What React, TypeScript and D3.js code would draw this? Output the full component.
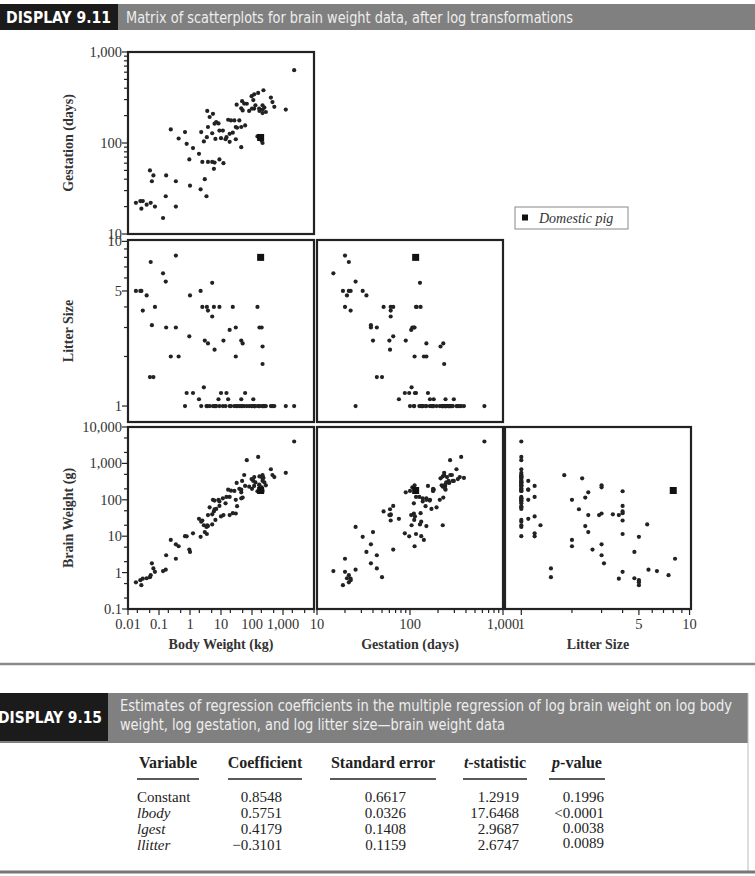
import React from "react";
import * as d3 from "d3";

// ---------- data (one entry per species) ----------
const bodyKg = [
  0.018, 0.025, 0.027, 0.03, 0.04, 0.051, 0.054, 0.059, 0.066, 0.074,
  0.135, 0.165, 0.17, 0.24, 0.35, 0.35, 0.43, 0.69, 0.78, 1.0,
  0.95, 1.25, 1.95, 2.2, 2.3, 2.5, 2.8, 3.0, 3.4, 3.6,
  3.5, 3.8, 3.8, 5.2, 5.2, 5.9, 6.2, 8.9, 12, 19,
  24, 30, 30, 45, 50, 150, 174, 205, 219, 219,
  8.3, 10, 15, 17, 45, 60, 110,
  4.3, 5.5, 7.0, 8.9, 11.5, 14, 19, 27, 32, 39, 48, 56, 68, 81, 97, 118, 158, 170, 219, 251, 407, 457, 525, 1230, 2290,
  6.2, 6.6, 21, 33, 45, 100, 117, 129, 234, 280, 219, 174,
];
const gestDays = [
  22, 23, 19, 23, 21, 50, 22, 38, 44, 20,
  15, 26, 44, 141, 20, 38, 112, 132, 98, 34,
  66, 88, 76, 31, 132, 62, 104, 40, 26, 225,
  116, 62, 150, 128, 62, 52, 61, 66, 60, 103,
  130, 110, 150, 90, 228, 118, 112, 106, 213, 233,
  164, 113, 116, 180, 241, 156, 296,
  193, 209, 170, 137, 137, 110, 126, 177, 264, 177, 288, 271, 270, 225, 327, 343, 355, 239, 260, 245, 316, 282, 250, 233, 631,
  163, 111, 177, 147, 150, 239, 239, 260, 380, 219, 100, 225,
];
const litterSize = [
  5.0, 5.0, 5.0, 3.8, 4.7, 1.5, 7.5, 3.1, 1.5, 4.0,
  6.4, 5.7, 3.0, 2.0, 8.2, 3.0, 2.0, 1.0, 1.2, 4.7,
  2.65, 1.2, 1.1, 5.0, 1.0, 4.0, 1.3, 2.5, 1.0, 1.0,
  4.0, 3.8, 2.4, 5.6, 3.5, 4.0, 2.2, 4.0, 2.5, 2.9,
  4.0, 3.0, 2.0, 2.5, 2.4, 4.0, 3.0, 3.0, 2.3, 1.8,
  1.1, 1.2, 1.2, 1.1, 1.1, 1.2, 1.1,
  1, 1, 1, 1, 1, 1, 1, 1, 1, 1, 1, 1, 1, 1, 1, 1, 1, 1, 1, 1, 1, 1, 1, 1, 1,
  1, 1, 1, 1, 1, 1, 1, 1, 1, 1, 1, 1,
];
const brainG = [
  0.54, 0.62, 0.45, 0.68, 0.7, 0.75, 0.85, 1.8, 1.3, 1.05,
  1.1, 1.2, 3.0, 7.9, 2.4, 6.0, 5.3, 10, 9.9, 3.7,
  4.3, 12, 30, 9.6, 25, 27, 20, 13, 18, 20,
  11.5, 38, 19, 21, 40, 48, 55, 68, 38, 38,
  43, 42, 100, 160, 115, 172, 250, 220, 390, 475,
  100, 35, 120, 190, 190, 240, 330,
  62, 100, 56, 90, 110, 80, 120, 175, 290, 200, 330, 480, 1230, 230, 370, 420, 1510, 260, 330, 300, 690, 480, 420, 550, 4000,
  95, 28, 178, 67, 110, 200, 240, 300, 400, 250, 175, 440,
];
// highlighted species
const pigBody = 190;
const pigGest = 115;
const pigLitter = 8;
const pigBrain = 180;
const pigLabel = "Domestic pig";

// ---------- axes ----------
const bodyTickValues = [0.01, 0.02, 0.05, 0.1, 0.2, 0.5, 1, 2, 5, 10, 20, 50, 100, 200, 500, 1000, 2000, 5000, 10000];
const bodyTickLabels = [0.01, 0.1, 1, 10, 100, 1000];
const gestTickValues = [10, 20, 30, 40, 50, 60, 70, 80, 90, 100, 200, 300, 400, 500, 600, 700, 800, 900, 1000];
const gestTickLabels = [10, 100, 1000];
const litterTickValues = [1, 2, 3, 4, 5, 6, 7, 8, 9, 10];
const litterTickLabels = [1, 5, 10];
const brainTickValues = [0.1, 0.2, 0.5, 1, 2, 5, 10, 20, 50, 100, 200, 500, 1000, 2000, 5000, 10000];
const brainTickLabels = [0.1, 1, 10, 100, 1000, 10000];

// ---------- table ----------
const tableHeaders = ["Variable", "Coefficient", "Standard error", "t-statistic", "p-value"];
const tableVariables = ["Constant", "lbody", "lgest", "llitter"];
const tableCoefficients = ["0.8548", "0.5751", "0.4179", "\u22120.3101"];
const tableStdErrors = ["0.6617", "0.0326", "0.1408", "0.1159"];
const tableTStats = ["1.2919", "17.6468", "2.9687", "2.6747"];
const tablePValues = ["0.1996", "<0.0001", "0.0038", "0.0089"];

const title1Tag = "DISPLAY 9.11";
const title1 = "Matrix of scatterplots for brain weight data, after log transformations";
const title2Tag = "DISPLAY 9.15";
const title2a = "Estimates of regression coefficients in the multiple regression of log brain weight on log body";
const title2b = "weight, log gestation, and log litter size\u2014brain weight data";

type VarKey = "body" | "gest" | "litter" | "brain";
const VARS: Record<VarKey, { values: number[]; pig: number; domain: [number, number]; ticks: number[]; labels: number[]; title: string }> = {
  body: { values: bodyKg, pig: pigBody, domain: [0.01, 10000], ticks: bodyTickValues, labels: bodyTickLabels, title: "Body Weight (kg)" },
  gest: { values: gestDays, pig: pigGest, domain: [10, 1000], ticks: gestTickValues, labels: gestTickLabels, title: "Gestation (days)" },
  litter: { values: litterSize, pig: pigLitter, domain: [0.8, 10.2], ticks: litterTickValues, labels: litterTickLabels, title: "Litter Size" },
  brain: { values: brainG, pig: pigBrain, domain: [0.1, 10000], ticks: brainTickValues, labels: brainTickLabels, title: "Brain Weight (g)" },
};

const rowVars: VarKey[] = ["gest", "litter", "brain"];
const colVars: VarKey[] = ["body", "gest", "litter"];
const cells = [
  { r: 0, c: 0 },
  { r: 1, c: 0 },
  { r: 1, c: 1 },
  { r: 2, c: 0 },
  { r: 2, c: 1 },
  { r: 2, c: 2 },
];

const colX = [128, 317, 505];
const rowY = [52, 240, 427];
const PW = 186;
const PH = 182;
const SERIF = "'Liberation Serif', 'Times New Roman', serif";
const NARROW = "'Liberation Sans Narrow', 'DejaVu Sans Condensed', 'Liberation Sans', sans-serif";
const fmt = d3.format(",");
const INK = "#222";
const LABEL = "#333";

function xScale(c: number) {
  const v = VARS[colVars[c]];
  return d3.scaleLog().domain(v.domain).range([colX[c], colX[c] + PW]);
}
function yScale(r: number) {
  const v = VARS[rowVars[r]];
  return d3.scaleLog().domain(v.domain).range([rowY[r] + PH, rowY[r]]);
}

export default function App() {
  const panels = cells.map(({ r, c }) => {
    const xs = xScale(c);
    const ys = yScale(r);
    const xv = VARS[colVars[c]];
    const yv = VARS[rowVars[r]];
    return (
      <g key={`p${r}${c}`}>
        {xv.values.map((xval, i) => (
          <circle key={i} cx={xs(xval)} cy={ys(yv.values[i])} r={2.1} fill={INK} />
        ))}
        <rect x={xs(xv.pig) - 3.5} y={ys(yv.pig) - 3.5} width={7} height={7} fill="#111" />
        <rect x={colX[c]} y={rowY[r]} width={PW} height={PH} fill="none" stroke={INK} strokeWidth={2.2} />
      </g>
    );
  });

  const yAxes = rowVars.map((key, r) => {
    const ys = yScale(r);
    const v = VARS[key];
    const x0 = colX[0];
    return (
      <g key={`ya${r}`}>
        {v.ticks.map((t) => {
          const major = v.labels.includes(t);
          return <line key={t} x1={x0 - (major ? 6 : 4)} x2={x0} y1={ys(t)} y2={ys(t)} stroke={INK} strokeWidth={1.2} />;
        })}
        {v.labels.map((t) => (
          <text key={t} x={x0 - 6} y={ys(t)} dy="0.35em" textAnchor="end" fontFamily={SERIF} fontSize={14.5} fill={LABEL}>
            {fmt(t)}
          </text>
        ))}
        <text
          transform={`translate(73, ${rowY[r] + PH / 2}) rotate(-90)`}
          textAnchor="middle"
          fontFamily={SERIF}
          fontWeight="bold"
          fontSize={14}
          fill={LABEL}
        >
          {v.title}
        </text>
      </g>
    );
  });

  const xAxes = colVars.map((key, c) => {
    const xs = xScale(c);
    const v = VARS[key];
    const y0 = rowY[2] + PH;
    return (
      <g key={`xa${c}`}>
        {v.ticks.map((t) => {
          const major = v.labels.includes(t);
          return <line key={t} x1={xs(t)} x2={xs(t)} y1={y0} y2={y0 + (major ? 6 : 4)} stroke={INK} strokeWidth={1.2} />;
        })}
        {v.labels.map((t) => (
          <text key={t} x={xs(t)} y={y0 + 20} textAnchor="middle" fontFamily={SERIF} fontSize={14.5} fill={LABEL}>
            {fmt(t)}
          </text>
        ))}
        <text x={colX[c] + PW / 2} y={649} textAnchor="middle" fontFamily={SERIF} fontWeight="bold" fontSize={14} fill={LABEL}>
          {v.title}
        </text>
      </g>
    );
  });

  // table layout
  const headerCenters = [168, 265, 383, 495, 577];
  const headerSegs = [
    { x1: 137, x2: 199 },
    { x1: 228, x2: 302 },
    { x1: 330, x2: 436 },
    { x1: 463, x2: 527 },
    { x1: 549, x2: 605 },
  ];
  const rowBase = [802, 818, 834, 850];
  const pOffset = [0, 0, -1, -2];

  return (
    <svg width={755} height={876} style={{ position: "absolute", left: 0, top: 0, display: "block" }}>
      <rect x={0} y={0} width={755} height={876} fill="#fff" />
      {/* header 1 */}
      <rect x={0} y={4} width={755} height={26} fill="#808080" />
      <rect x={0} y={4} width={118} height={26} fill="#1b1b1b" />
      <text x={6} y={23} fill="#fff" fontFamily={NARROW} fontWeight="bold" fontSize={15} textLength={105} lengthAdjust="spacingAndGlyphs">
        {title1Tag}
      </text>
      <text x={126} y={23} fill="#eeeeee" fontFamily={NARROW} fontSize={15} textLength={447} lengthAdjust="spacingAndGlyphs">
        {title1}
      </text>

      {panels}
      {yAxes}
      {xAxes}

      {/* legend */}
      <rect x={515} y={207} width={113} height={22} fill="#fff" stroke="#888" strokeWidth={1} />
      <rect x={522} y={214.5} width={6} height={6} fill="#111" />
      <text x={539} y={222.5} fontFamily={SERIF} fontStyle="italic" fontSize={14} fill={LABEL}>
        {pigLabel}
      </text>

      {/* separator */}
      <line x1={0} x2={755} y1={664} y2={664} stroke="#8a8a8a" strokeWidth={2.5} />

      {/* header 2 */}
      <rect x={0} y={693} width={748} height={48} fill="#808080" />
      <rect x={0} y={693} width={108} height={48} fill="#1b1b1b" />
      <text x={-2} y={723} fill="#fff" fontFamily={NARROW} fontWeight="bold" fontSize={15} textLength={104} lengthAdjust="spacingAndGlyphs">
        {title2Tag}
      </text>
      <text x={120} y={711} fill="#eeeeee" fontFamily={NARROW} fontSize={15} textLength={612} lengthAdjust="spacingAndGlyphs">
        {title2a}
      </text>
      <text x={120} y={730} fill="#eeeeee" fontFamily={NARROW} fontSize={15} textLength={385} lengthAdjust="spacingAndGlyphs">
        {title2b}
      </text>
      <line x1={0} x2={748} y1={742} y2={742} stroke="#555" strokeWidth={1.5} />
      <line x1={748} x2={748} y1={693} y2={872} stroke="#bbb" strokeWidth={1} />

      {/* table header */}
      <g fontFamily={SERIF} fontWeight="bold" fontSize={16} fill="#222">
        <text x={headerCenters[0]} y={768} textAnchor="middle">{tableHeaders[0]}</text>
        <text x={headerCenters[1]} y={768} textAnchor="middle">{tableHeaders[1]}</text>
        <text x={headerCenters[2]} y={768} textAnchor="middle">{tableHeaders[2]}</text>
        <text x={headerCenters[3]} y={768} textAnchor="middle">
          <tspan fontStyle="italic">t</tspan>-statistic
        </text>
        <text x={headerCenters[4]} y={768} textAnchor="middle">
          <tspan fontStyle="italic">p</tspan>-value
        </text>
      </g>
      {headerSegs.map((s, i) => (
        <line key={i} x1={s.x1} x2={s.x2} y1={779} y2={779} stroke="#222" strokeWidth={1.6} />
      ))}
      <g fontFamily={SERIF} fontSize={15} fill="#222">
        {tableVariables.map((v, i) => (
          <text key={`v${i}`} x={137} y={rowBase[i]} fontStyle={i === 0 ? "normal" : "italic"}>
            {v}
          </text>
        ))}
        {tableCoefficients.map((v, i) => (
          <text key={`c${i}`} x={282} y={rowBase[i]} textAnchor="end">{v}</text>
        ))}
        {tableStdErrors.map((v, i) => (
          <text key={`s${i}`} x={406} y={rowBase[i]} textAnchor="end">{v}</text>
        ))}
        {tableTStats.map((v, i) => (
          <text key={`t${i}`} x={519} y={rowBase[i]} textAnchor="end">{v}</text>
        ))}
        {tablePValues.map((v, i) => (
          <text key={`pv${i}`} x={604} y={rowBase[i] + pOffset[i]} textAnchor="end">{v}</text>
        ))}
      </g>
      <line x1={0} x2={755} y1={872} y2={872} stroke="#777" strokeWidth={3} />
    </svg>
  );
}
